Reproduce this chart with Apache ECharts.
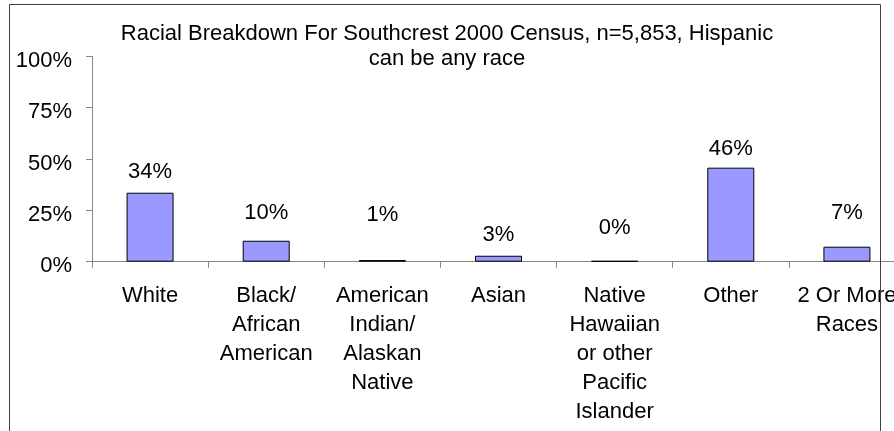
<!DOCTYPE html>
<html>
<head>
<meta charset="utf-8">
<script src="https://cdn.jsdelivr.net/npm/echarts@6/dist/echarts.min.js"></script>
<style>
html,body{margin:0;padding:0;background:#fff;overflow:hidden;width:894px;height:431px;}
#chart{width:920px;height:431px;}
</style>
</head>
<body>
<div id="chart"></div>
<script>
// ---- data ----
const titleText = 'Racial Breakdown For Southcrest 2000 Census, n=5,853, Hispanic\ncan be any race';
const categories = [
  'White',
  'Black/\nAfrican\nAmerican',
  'American\nIndian/\nAlaskan\nNative',
  'Asian',
  'Native\nHawaiian\nor other\nPacific\nIslander',
  'Other',
  '2 Or More\nRaces'
];
const values = [33.6, 10.2, 0.8, 2.9, 0.4, 45.8, 7.3];
const yTicks = [0, 25, 50, 75, 100];

// ---- label placement (style, not data) ----
const labelDistances = [10, 17, 34, 10, 22, 8, 23];

const FONT = 'Liberation Sans, Arial, sans-serif';
const FS = 22;
const chart = echarts.init(document.getElementById('chart'));
chart.setOption({
  animation: false,
  backgroundColor: '#fff',
  grid: {left: 92, top: 56.4, width: 813, height: 205.3},
  xAxis: {
    type: 'category',
    data: categories,
    axisLine: {lineStyle: {color: '#868686', width: 1}},
    axisTick: {show: true, length: 6, lineStyle: {color: '#868686'}},
    axisLabel: {interval: 0, margin: 20, fontFamily: FONT, fontSize: FS, color: '#000', lineHeight: 29, align: 'center'}
  },
  yAxis: {
    type: 'value',
    min: yTicks[0],
    max: yTicks[yTicks.length - 1],
    interval: yTicks[1] - yTicks[0],
    axisLine: {show: true, lineStyle: {color: '#868686'}},
    axisTick: {show: true, length: 6, lineStyle: {color: '#868686'}},
    splitLine: {show: false},
    axisLabel: {formatter: '{value}%', margin: 20, fontFamily: FONT, fontSize: FS, color: '#000',
                verticalAlign: 'top', lineHeight: 9}
  },
  series: [{
    type: 'bar',
    barWidth: 47,
    data: values.map((v, i) => ({
      value: v,
      label: {distance: labelDistances[i]}
    })),
    itemStyle: {color: '#9999FF', borderColor: '#000', borderWidth: 1},
    label: {
      show: true,
      position: 'top',
      fontFamily: FONT,
      fontSize: FS,
      color: '#000',
      formatter: p => Math.round(p.value) + '%'
    }
  }],
  graphic: [{
    type: 'text',
    x: 447,
    y: 21,
    style: {
      text: titleText,
      font: FS + 'px ' + FONT,
      fill: '#000',
      align: 'center',
      textAlign: 'center',
      verticalAlign: 'top',
      textVerticalAlign: 'top',
      lineHeight: 25
    }
  }, {
    type: 'rect',
    z: 100,
    shape: {x: 9.5, y: 4.5, width: 871, height: 500},
    style: {fill: null, stroke: '#404040', lineWidth: 1}
  }]
});
</script>
</body>
</html>
